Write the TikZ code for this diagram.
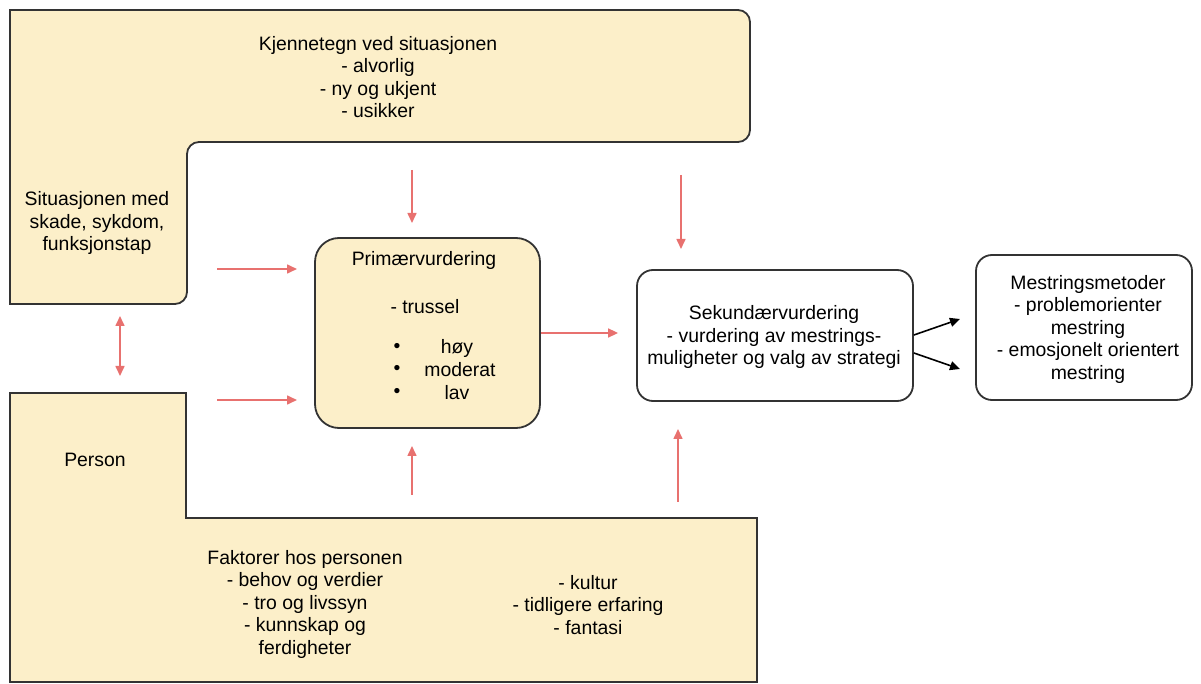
\documentclass[tikz,border=0pt]{standalone}
\usepackage{fontspec}
\setmainfont{Liberation Sans}
\usetikzlibrary{arrows.meta}
\definecolor{fillY}{HTML}{FCEFC9}
\definecolor{redA}{HTML}{E8716F}
\definecolor{edgeC}{HTML}{333333}
\begin{document}
\begin{tikzpicture}[x=0.5pt,y=-0.5pt,
  txt/.style={font=\fontsize{9.7}{11.25}\selectfont, align=center, inner sep=0pt},
  shapeY/.style={draw=edgeC, line width=0.9pt, fill=fillY},
  rbox/.style={draw=edgeC, line width=0.9pt, inner sep=0pt},
  ra/.style={draw=redA, line width=0.8pt, -{Triangle[length=5pt,width=4.5pt]}},
  rab/.style={draw=redA, line width=0.8pt, {Triangle[length=5pt,width=4.5pt]}-{Triangle[length=5pt,width=4.5pt]}},
  ba/.style={draw=black, line width=0.8pt, -{Triangle[length=5pt,width=4.5pt]}}]
\useasboundingbox (0,0) rectangle (1201,684);

% L-shaped situation area
\path[shapeY] (10,304) [sharp corners] -- (10,10) [rounded corners=6pt] -- (750,10) -- (750,142) -- (187,142) -- (187,304) [sharp corners] -- cycle;
% L-shaped person area
\path[shapeY] (10,682) [sharp corners] -- (10,393) -- (186,393) -- (186,518) -- (757,518) -- (757,682) -- cycle;

% boxes
\node[rbox, fill=fillY, rounded corners=12pt, minimum width=112.5pt, minimum height=95pt] (prim) at (427.5,333) {};
\node[rbox, fill=white, rounded corners=8pt, minimum width=138pt, minimum height=65.5pt] (sek) at (775,335.5) {};
\node[rbox, fill=white, rounded corners=8pt, minimum width=108pt, minimum height=72.5pt] (mest) at (1084,327.5) {};

% texts
\node[txt] (tkj) at (378,77) {Kjennetegn ved situasjonen\\- alvorlig\\- ny og ukjent\\- usikker};
\node[txt] (tsit) at (97,223) {Situasjonen med\\skade, sykdom,\\funksjonstap};
\node[txt] (tper) at (95,460) {Person};
\node[txt] (tfak) at (305,604) {Faktorer hos personen\\- behov og verdier\\- tro og livssyn\\- kunnskap og\\ferdigheter};
\node[txt] (tfak2) at (588,605) {- kultur\\- tidligere erfaring\\- fantasi};
\node[txt] (tprim) at (424,260) {Primærvurdering};
\node[txt] (ttru) at (425,307) {- trussel};
\node[txt] (b1) at (397,348) {\textbullet};
\node[txt] (b2) at (397,370) {\textbullet};
\node[txt] (b3) at (397,393) {\textbullet};
\node[txt] (hoy) at (457,348) {høy};
\node[txt] (mod) at (460,370) {moderat};
\node[txt] (lav) at (457,393) {lav};
\node[txt] (tsek) at (774,337) {Sekundærvurdering\\- vurdering av mestrings-\\muligheter og valg av strategi};
\node[txt] (tmest) at (1088,329) {Mestringsmetoder\\- problemorienter\\mestring\\- emosjonelt orientert\\mestring};

% arrow end coordinates
\coordinate (a1s) at (412,170); \coordinate (a1e) at (412,223);
\coordinate (a2s) at (681,175); \coordinate (a2e) at (681,249);
\coordinate (a3s) at (217,269); \coordinate (a3e) at (297,269);
\coordinate (a4s) at (217,400); \coordinate (a4e) at (297,400);
\coordinate (a5s) at (412,495); \coordinate (a5e) at (412,446);
\coordinate (a6s) at (678,502); \coordinate (a6e) at (678,429);
\coordinate (d1) at (120,316); \coordinate (d2) at (120,376);
\coordinate (p2s) at (sek.east |- 0,335); \coordinate (p2e) at (960,319);
\coordinate (p3s) at (sek.east |- 0,353); \coordinate (p3e) at (960,369);

\draw[ra] (a1s) -- (a1e);
\draw[ra] (a2s) -- (a2e);
\draw[ra] (a3s) -- (a3e);
\draw[ra] (a4s) -- (a4e);
\draw[ra] (a5s) -- (a5e);
\draw[ra] (a6s) -- (a6e);
\draw[rab] (d1) -- (d2);
\draw[ra, shorten >=9pt] (prim.east) -- (prim.east -| sek.west);
\draw[ba] (p2s) -- (p2e);
\draw[ba] (p3s) -- (p3e);
\end{tikzpicture}
\end{document}
